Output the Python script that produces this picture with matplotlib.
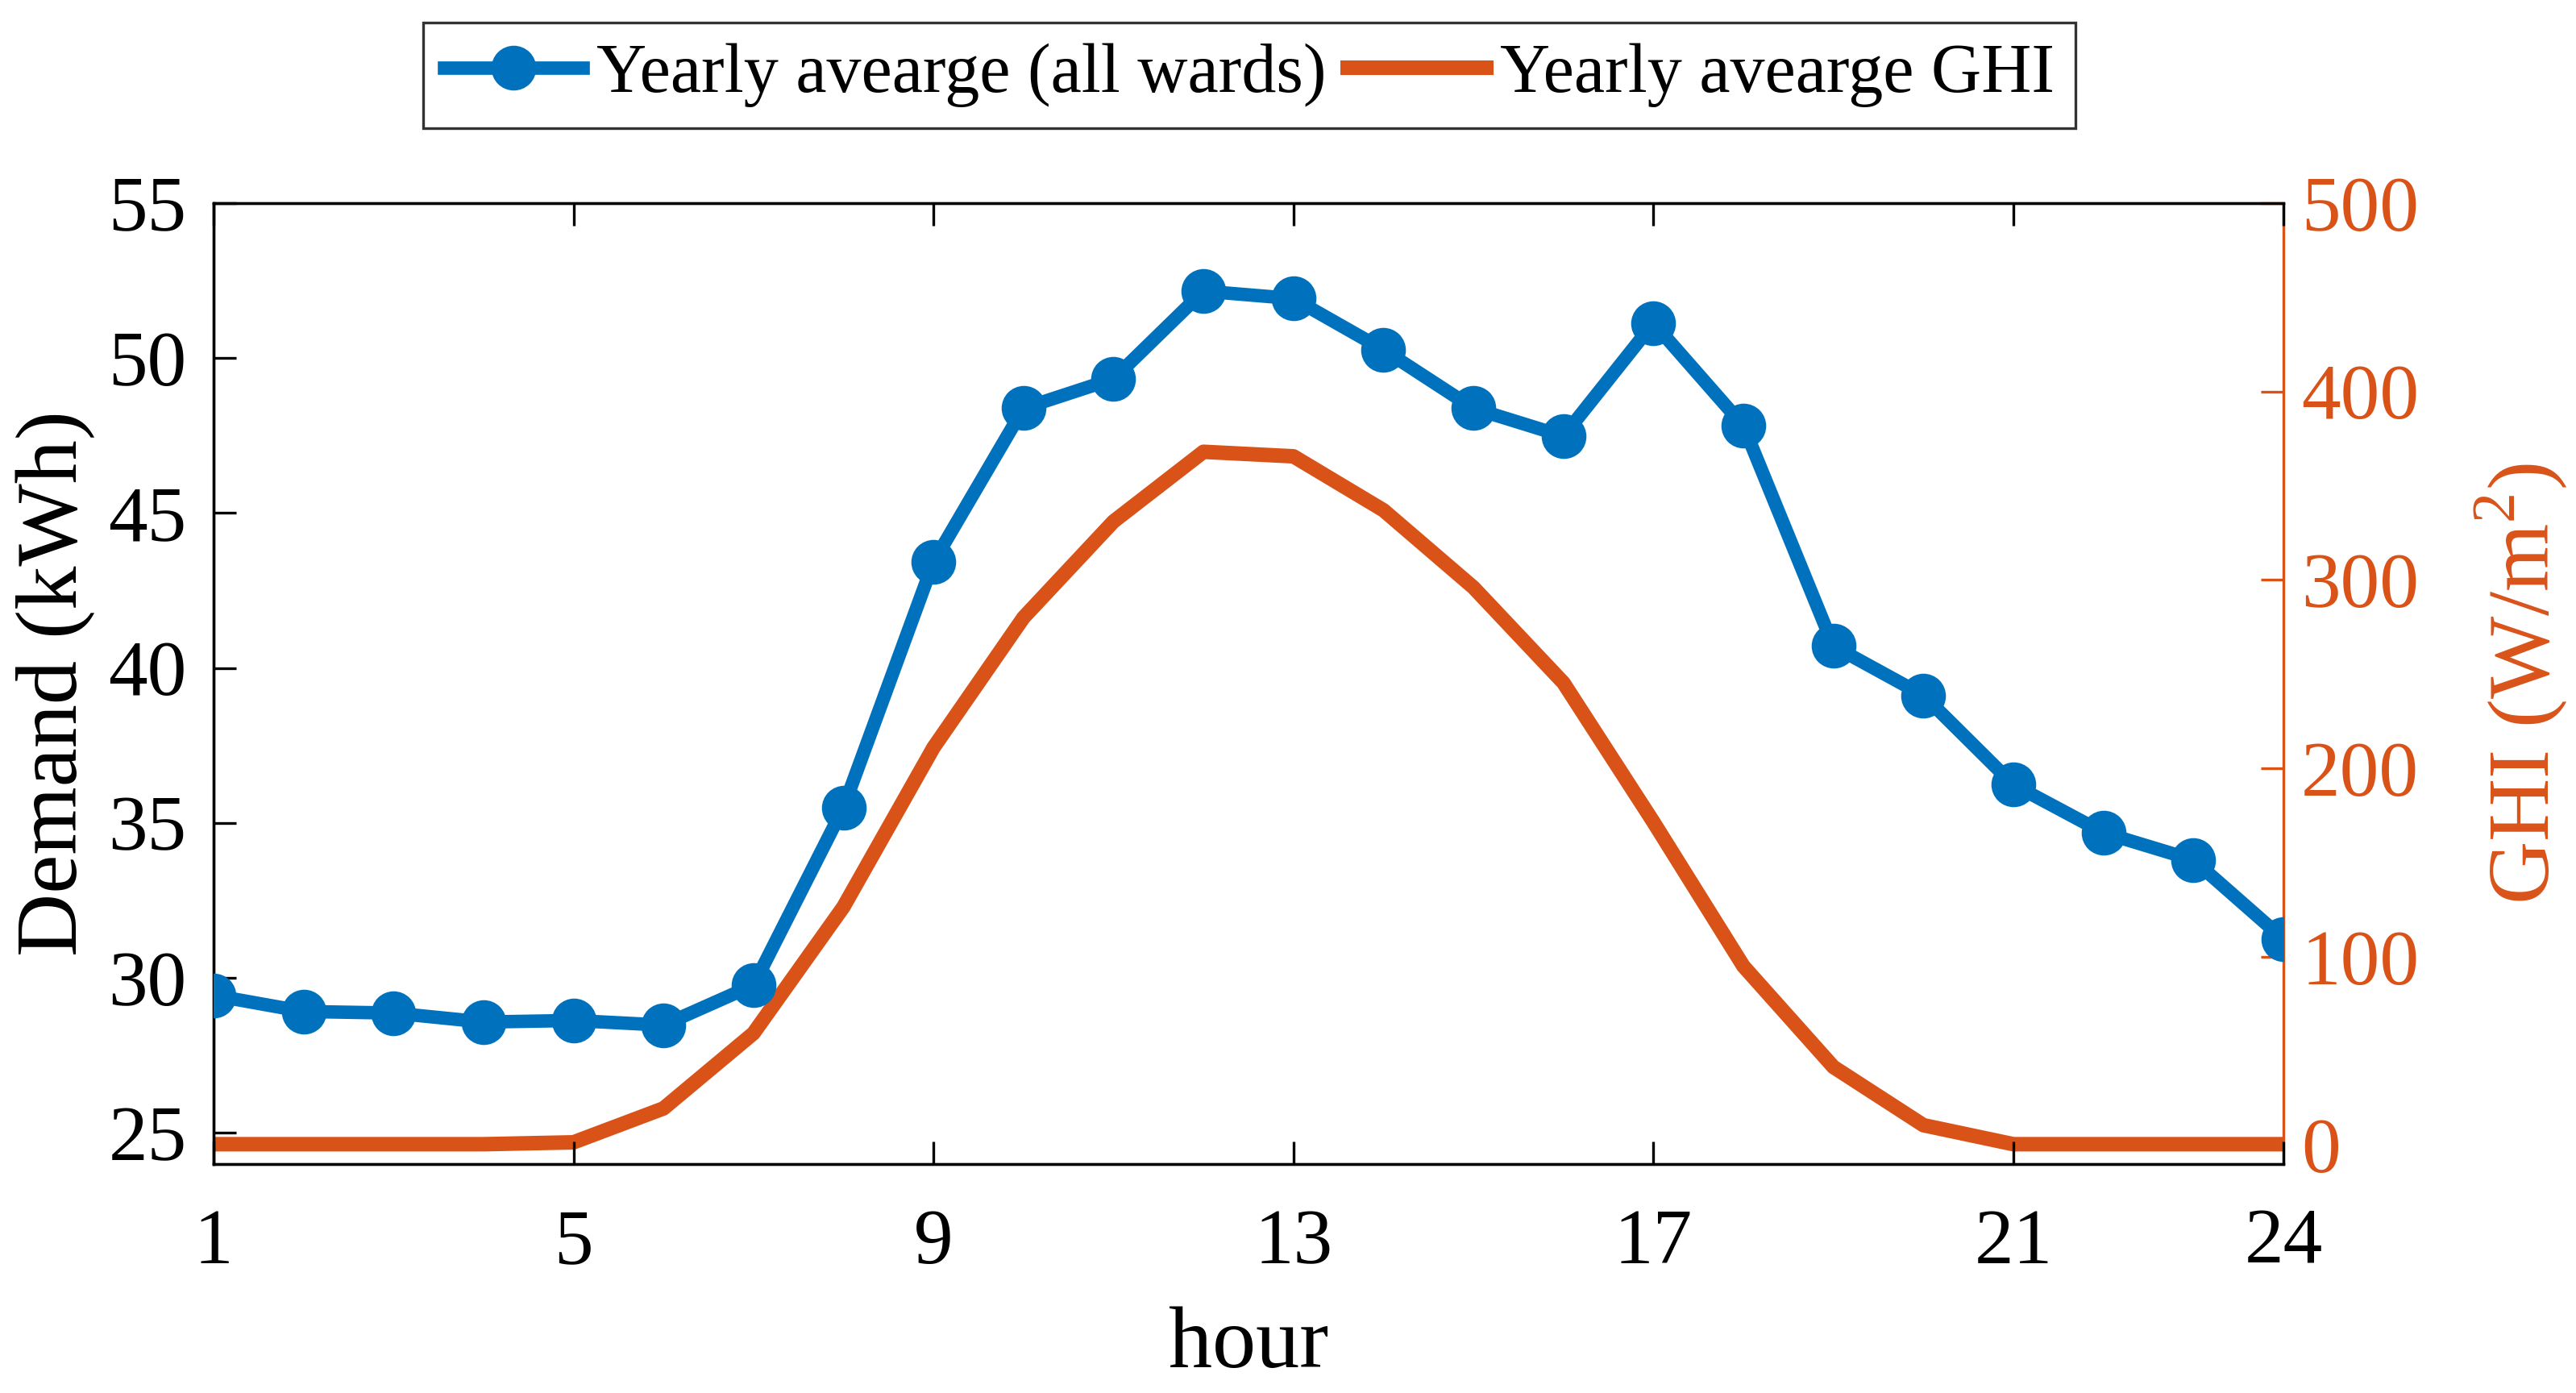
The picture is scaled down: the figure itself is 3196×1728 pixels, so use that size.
import matplotlib
matplotlib.use("Agg")
import matplotlib.pyplot as plt

hours = list(range(1, 25))
demand = [29.44, 28.92, 28.87, 28.58, 28.63, 28.48, 29.77, 35.5, 43.42, 48.38, 49.33, 52.16,
          51.92, 50.27, 48.38, 47.48, 51.13, 47.82, 40.71, 39.12, 36.24, 34.69, 33.81, 31.26]
ghi = [0.5, 0.5, 0.5, 0.5, 1.5, 19.5, 59.4, 126.5, 211, 280, 331, 368,
       365.6, 337, 296, 245.4, 171.5, 95, 41.5, 10.6, 0.5, 0.5, 0.5, 0.5]
xticks = [1, 5, 9, 13, 17, 21, 24]
left_ticks = [25, 30, 35, 40, 45, 50, 55]
right_ticks = [0, 100, 200, 300, 400, 500]

blue = "#0072BD"
orange = "#D95319"

plt.rcParams['font.family'] = ['Liberation Serif', 'DejaVu Serif']
plt.rcParams['mathtext.fontset'] = 'custom'
plt.rcParams['mathtext.rm'] = 'Liberation Serif'

fig = plt.figure(figsize=(15.98, 8.64), dpi=200)
ax = fig.add_axes([0.0829, 0.1644, 0.8035, 0.6898])
ax2 = ax.twinx()

l1, = ax.plot(hours, demand, color=blue, lw=6, marker='o', ms=19, label='Yearly avearge (all wards)', zorder=3)
l2, = ax2.plot(hours, ghi, color=orange, lw=6.5, label='Yearly avearge GHI')

ax.set_xlim(1, 24)
ax.set_ylim(24, 55)
ax2.set_ylim(-10, 500)
ax.set_xticks(xticks)
ax.set_yticks(left_ticks)
ax2.set_yticks(right_ticks)

ax.tick_params(axis='both', direction='in', labelsize=35, length=10, width=1.2, color='black', pad=12)
ax.tick_params(axis='x', top=True, pad=20)
ax.tick_params(axis='y', right=False)
ax2.tick_params(axis='y', direction='in', labelsize=35, length=10, width=1.2, colors=orange, pad=8)

for s in ['left', 'bottom', 'top']:
    ax.spines[s].set_linewidth(1.2)
    ax2.spines[s].set_linewidth(1.2)
ax2.spines['right'].set_color(orange)
ax2.spines['right'].set_linewidth(1.2)
ax.spines['right'].set_visible(False)

ax.set_xlabel('hour', fontsize=39, labelpad=12)
ax.set_ylabel('Demand (kWh)', fontsize=39, labelpad=6)
ax2.set_ylabel('GHI (W/m$^2$)', fontsize=39, color=orange, labelpad=24)

ax.set_zorder(ax2.get_zorder() + 1)
ax.patch.set_visible(False)

leg = fig.legend([l1, l2], [l1.get_label(), l2.get_label()], loc='center', bbox_to_anchor=(0.485, 0.946),
                 ncol=2, fontsize=31, frameon=True, fancybox=False, edgecolor='black',
                 handlelength=2.0, handletextpad=0.2, columnspacing=0.3, borderpad=0.3)
leg.get_frame().set_linewidth(1.2)

fig.savefig('out.png', dpi=200)
